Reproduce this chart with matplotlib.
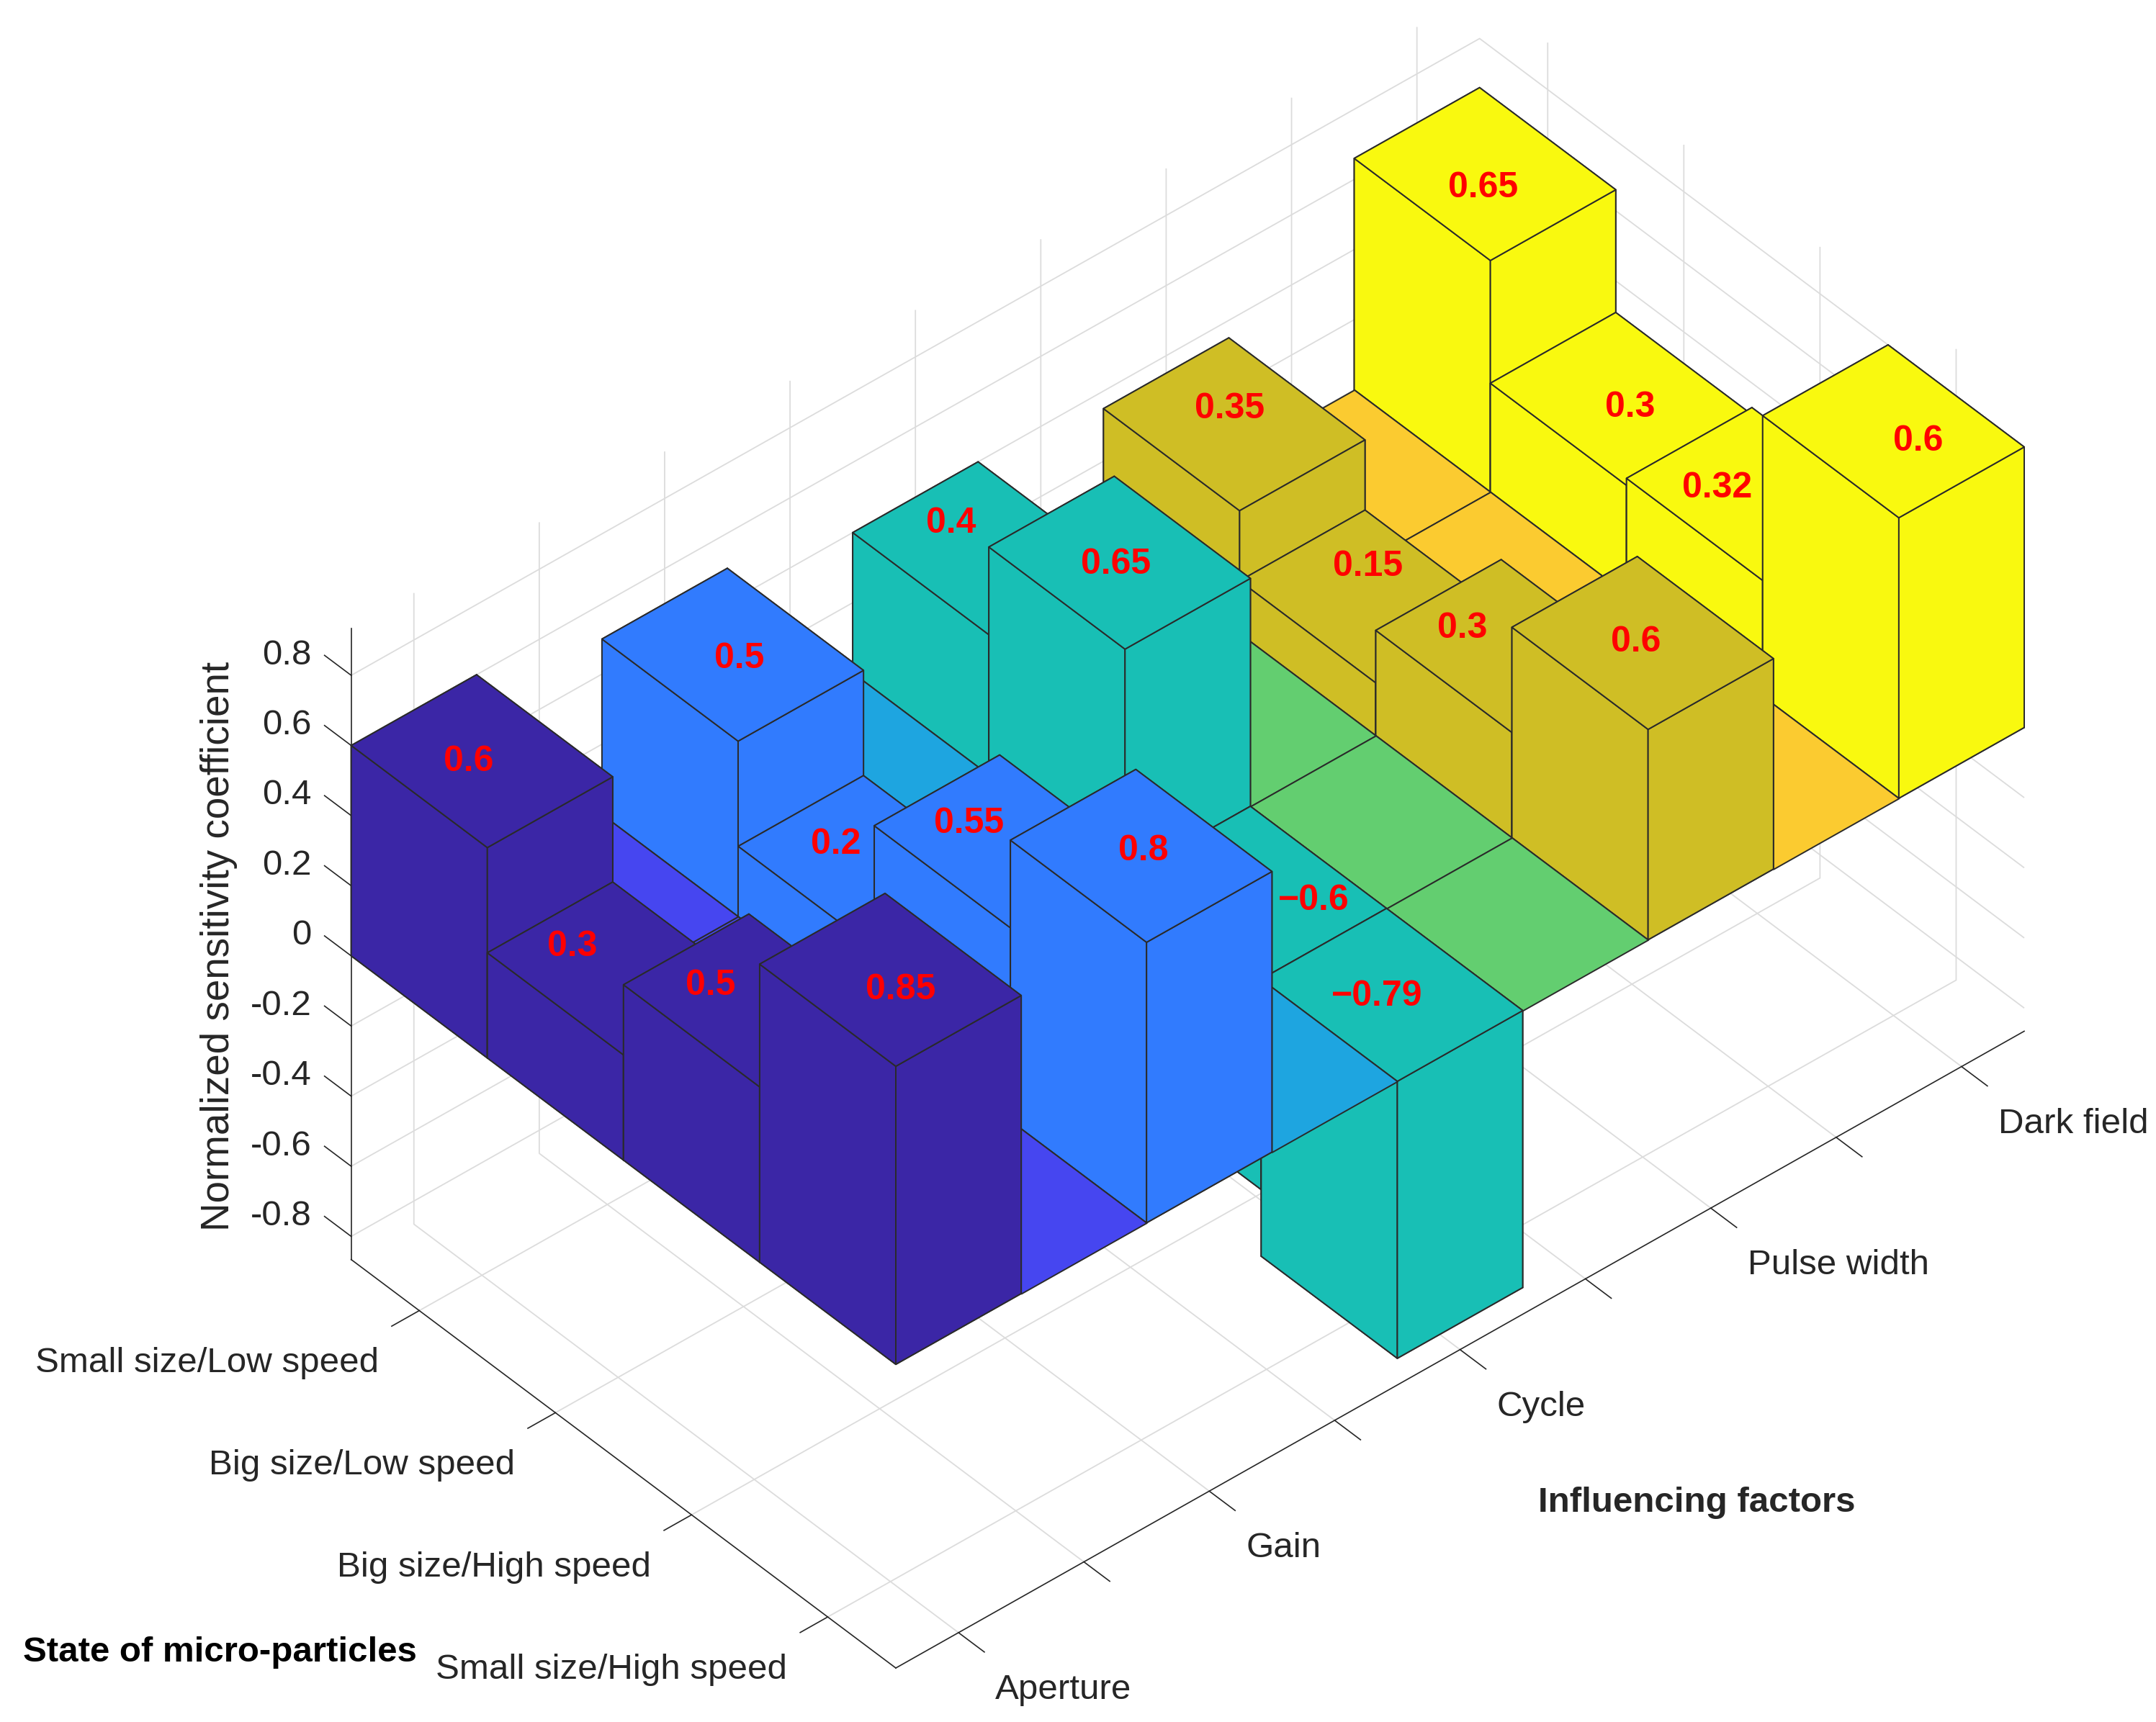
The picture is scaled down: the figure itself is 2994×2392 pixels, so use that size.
# Recreate the 3D bar chart of normalized sensitivity coefficients
import matplotlib
matplotlib.use("Agg")
import matplotlib.pyplot as plt
from mpl_toolkits.mplot3d import proj3d
from mpl_toolkits.mplot3d.art3d import Poly3DCollection

# Categories
factors = ["Aperture", "Gain", "Cycle", "Pulse width", "Dark field"]
states = [
    "Small size/Low speed",
    "Big size/Low speed",
    "Big size/High speed",
    "Small size/High speed",
]

# Bar heights per factor, one value per state
aperture_values = [0.6, 0.3, 0.5, 0.85]
gain_values = [0.5, 0.2, 0.55, 0.8]
cycle_values = [0.4, 0.65, -0.6, -0.79]
pulse_values = [0.35, 0.15, 0.3, 0.6]
dark_values = [0.66, 0.31, 0.33, 0.8]

# Printed labels (the last bar is labelled 0.6 in the original)
aperture_labels = ["0.6", "0.3", "0.5", "0.85"]
gain_labels = ["0.5", "0.2", "0.55", "0.8"]
cycle_labels = ["0.4", "0.65", "\u22120.6", "\u22120.79"]
pulse_labels = ["0.35", "0.15", "0.3", "0.6"]
dark_labels = ["0.65", "0.3", "0.32", "0.6"]

# Label anchors in data units
label_x = [
    [0.976, 0.97, 0.9535, 1.001],
    [2.012, 1.986, 1.9815, 2.028],
    [3.0095, 2.994, 3.1165, 2.97],
    [4.0445, 4.093, 3.9615, 3.994],
    [4.9605, 5.003, 4.9355, 5.034],
]
label_y = [
    [0.9445, 1.72, 2.7625, 4.072],
    [1.0255, 1.781, 2.7695, 3.964],
    [0.7435, 1.983, 3.2085, 3.944],
    [0.8865, 1.808, 2.7485, 3.959],
    [1.0565, 2.0625, 2.8225, 4.1175],
]

# Tick values
x_ticks = [1, 1.5, 2, 2.5, 3, 3.5, 4, 4.5, 5]
y_ticks = [1, 2, 3, 4]
z_ticks = [-0.8, -0.6, -0.4, -0.2, 0, 0.2, 0.4, 0.6, 0.8]
z_tick_labels = ["-0.8", "-0.6", "-0.4", "-0.2", "0", "0.2", "0.4", "0.6", "0.8"]

# Colours
bar_colors = ["#3B26A6", "#317BFE", "#18BFB5", "#CFBE25", "#F9F90F"]
floor_colors = ["#4646F0", "#1EA5E0", "#63CE70", "#FBCB30"]
EDGE_COLOR = "#2A2A2A"
AXIS_COLOR = "#262626"
TEXT_COLOR = "#262626"

# Axis limits and bar widths
X_LIM = (0.75, 5.25)
Y_LIM = (0.5, 4.5)
Z_LIM = (-0.866, 0.934)
BAR_WIDTH = 0.5
ROW_WIDTH = 1.0
BOX_ASPECT = (1.8, 1.0015, 1.002)

# Figure size in pixels and where the box corners should land (image coordinates)
FIG_W = 2994
FIG_H = 2392
NEAR_CORNER_PX = (1244, 2317)
RIGHT_CORNER_PX = (2811, 1436)

FONT_SIZE = 35.5
VALUE_FONT_SIZE = 36


def project_px(ax, x, y, z):
    """Project a data point to figure pixels, using image style y."""
    xs, ys, _ = proj3d.proj_transform(x, y, z, ax.get_proj())
    px, py = ax.transData.transform((xs, ys))
    return px, FIG_H - py


def fit_box(ax):
    """Scale and move the 3D box so its bottom corners land on the target pixels."""
    ax.apply_aspect()
    x0, y0 = project_px(ax, X_LIM[0], Y_LIM[1], Z_LIM[0])
    x1, y1 = project_px(ax, X_LIM[1], Y_LIM[1], Z_LIM[0])
    scale = (RIGHT_CORNER_PX[0] - NEAR_CORNER_PX[0]) / (x1 - x0)
    ax.set_box_aspect(BOX_ASPECT, zoom=scale)

    x0, y0 = project_px(ax, X_LIM[0], Y_LIM[1], Z_LIM[0])
    box = ax.get_position(original=True)
    ax.set_position([
        box.x0 + (NEAR_CORNER_PX[0] - x0) / FIG_W,
        box.y0 - (NEAR_CORNER_PX[1] - y0) / FIG_H,
        box.width,
        box.height,
    ])
    ax.apply_aspect()


def style_axes(ax):
    """Set limits, view, and leave only the light grid of the native axes."""
    ax.set_xlim(*X_LIM)
    ax.set_ylim(Y_LIM[1], Y_LIM[0])
    ax.set_zlim(*Z_LIM)
    ax.set_proj_type("ortho")
    ax.view_init(elev=40.6, azim=-130.94)
    ax.set_box_aspect(BOX_ASPECT)
    ax.set_xticks(x_ticks)
    ax.set_yticks(y_ticks)
    ax.set_zticks(z_ticks)
    ax.set_xticklabels([])
    ax.set_yticklabels([])
    ax.set_zticklabels([])

    for axis in (ax.xaxis, ax.yaxis, ax.zaxis):
        axis.set_pane_color((1, 1, 1, 0))
        axis.pane.set_edgecolor((1, 1, 1, 0))
        axis.line.set_color((1, 1, 1, 0))
        axis._axinfo["tick"]["inward_factor"] = 0
        axis._axinfo["tick"]["outward_factor"] = 0


def place_text(ax, x, y, z, text, **kwargs):
    """Write 2D text at the projected position of a data point."""
    xs, ys, _ = proj3d.proj_transform(x, y, z, ax.get_proj())
    ax.text2D(xs, ys, text, transform=ax.transData, **kwargs)


def draw_axis_lines(ax):
    """Draw the three axis lines and their outward tick marks."""
    style = dict(color=AXIS_COLOR, linewidth=1.2, zorder=1)
    ax.plot(X_LIM, [Y_LIM[1]] * 2, [Z_LIM[0]] * 2, **style)
    ax.plot([X_LIM[0]] * 2, Y_LIM, [Z_LIM[0]] * 2, **style)
    ax.plot([X_LIM[0]] * 2, [Y_LIM[0]] * 2, Z_LIM, **style)

    for x in x_ticks:
        ax.plot([x, x], [Y_LIM[1], Y_LIM[1] + 0.19], [Z_LIM[0]] * 2, **style)
    for y in y_ticks:
        ax.plot([X_LIM[0], X_LIM[0] - 0.11], [y, y], [Z_LIM[0]] * 2, **style)
    for z in z_ticks:
        ax.plot([X_LIM[0]] * 2, [Y_LIM[0], Y_LIM[0] - 0.196], [z, z], **style)


def draw_tick_labels(ax):
    """Write the tick labels next to their ticks."""
    style = dict(va="center", fontsize=FONT_SIZE, color=TEXT_COLOR, zorder=500)
    for x, name in zip(x_ticks[::2], factors):
        place_text(ax, x, Y_LIM[1] + 0.27, Z_LIM[0] - 0.085, name, ha="left", **style)
    for y, name in zip(y_ticks, states):
        place_text(ax, X_LIM[0] - 0.161, y, Z_LIM[0] - 0.085, name, ha="right", **style)
    for z, name in zip(z_ticks, z_tick_labels):
        place_text(ax, X_LIM[0], Y_LIM[0] - 0.29, z - 0.027, name, ha="right", **style)


def draw_bars(ax, values_by_factor):
    """Draw bars and floor cells from the back to the front so they overlap properly."""
    order = 10
    for col in reversed(range(len(factors))):
        x_center = col + 1
        for row, value in enumerate(values_by_factor[col]):
            bars = ax.bar3d(
                x_center - BAR_WIDTH / 2, row + 1 - ROW_WIDTH / 2, 0,
                BAR_WIDTH, ROW_WIDTH, value,
                color=bar_colors[col], edgecolor=EDGE_COLOR, linewidth=1.4, shade=False,
            )
            bars.set_zorder(order)
            order += 1

        # Floor strip between this factor and the previous one
        if col > 0:
            x0 = x_center - 1 + BAR_WIDTH / 2
            x1 = x_center - BAR_WIDTH / 2
            for row in range(len(states)):
                y0 = row + 1 - ROW_WIDTH / 2
                y1 = y0 + ROW_WIDTH
                cell = Poly3DCollection(
                    [[(x0, y0, 0), (x1, y0, 0), (x1, y1, 0), (x0, y1, 0)]],
                    facecolor=floor_colors[col - 1], edgecolor=EDGE_COLOR, linewidth=1.4,
                )
                cell.set_zorder(order)
                order += 1
                ax.add_collection3d(cell)


def draw_value_labels(ax, values_by_factor, labels_by_factor):
    """Labels sit on the top faces (negative bars hang below the floor)."""
    for col, values in enumerate(values_by_factor):
        for row, value in enumerate(values):
            place_text(ax, label_x[col][row], label_y[col][row], max(value, 0) - 0.008,
                       labels_by_factor[col][row], color="red", fontweight="bold",
                       fontsize=VALUE_FONT_SIZE, ha="center", va="center", zorder=1000)


def draw_titles(fig):
    """Axis titles sit at fixed spots of the figure."""
    fig.text(304 / FIG_W, 1 - 1314 / FIG_H, "Normalized sensitivity coefficient",
             rotation=90, ha="center", va="center", fontsize=39.4, color=TEXT_COLOR)
    fig.text(305 / FIG_W, 1 - 2295 / FIG_H, "State of micro-particles",
             ha="center", va="center", fontsize=FONT_SIZE, fontweight="bold", color="black")
    fig.text(2356 / FIG_W, 1 - 2087 / FIG_H, "Influencing factors",
             ha="center", va="center", fontsize=FONT_SIZE, fontweight="bold", color=TEXT_COLOR)


def main():
    plt.rcParams["font.family"] = "Liberation Sans"
    plt.rcParams["grid.color"] = "#DCDCDC"
    plt.rcParams["grid.linewidth"] = 1.3

    fig = plt.figure(figsize=(FIG_W / 100, FIG_H / 100), dpi=100, facecolor="white")
    ax = fig.add_axes([0, 0, FIG_H / FIG_W, 1], projection="3d", computed_zorder=False)
    ax.patch.set_alpha(0)

    values_by_factor = [aperture_values, gain_values, cycle_values, pulse_values, dark_values]
    labels_by_factor = [aperture_labels, gain_labels, cycle_labels, pulse_labels, dark_labels]

    draw_bars(ax, values_by_factor)
    style_axes(ax)
    fit_box(ax)
    draw_axis_lines(ax)
    style_axes(ax)
    fit_box(ax)
    draw_tick_labels(ax)
    draw_value_labels(ax, values_by_factor, labels_by_factor)
    draw_titles(fig)

    fig.savefig("out.png", dpi=100)


if __name__ == "__main__":
    main()
